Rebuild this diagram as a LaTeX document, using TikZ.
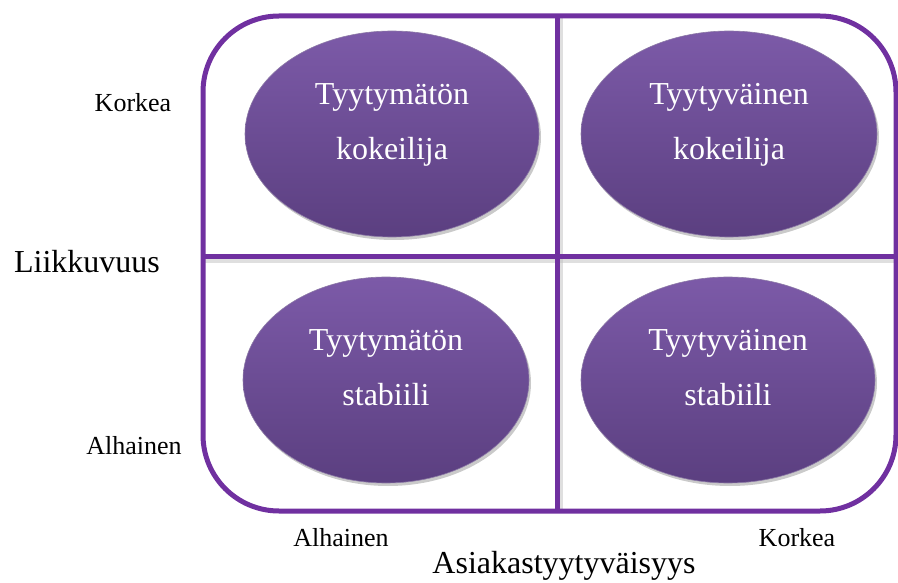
\documentclass[tikz,border=0pt]{standalone}
\usepackage{fontspec}
\setmainfont{Liberation Serif}
\usetikzlibrary{shadows,calc}
\definecolor{framepurple}{HTML}{7030A0}
\definecolor{elltop}{HTML}{7C5AA8}
\definecolor{ellbot}{HTML}{5B3F80}
\tikzset{
  frameline/.style={draw=framepurple, line width=5pt},
  lineshadow/.style={draw=black!25, line width=5pt},
  bubble/.style={ellipse, minimum width=#1, minimum height=206pt, inner sep=0pt,
    top color=elltop, bottom color=ellbot, draw=ellbot!70!white, line width=0.6pt,
    drop shadow={shadow xshift=2pt, shadow yshift=-3pt, opacity=0.35, fill=black!60}},
  bubbletext/.style={text=white, font=\fontsize{32}{55}\selectfont, align=center},
  axislbl/.style={font=\fontsize{26}{30}\selectfont, text=black},
  axistitle/.style={font=\fontsize{32}{36}\selectfont, text=black},
}
\usetikzlibrary{shapes.geometric}
\begin{document}
\begin{tikzpicture}[x=1pt,y=-1pt]
\useasboundingbox (0,0) rectangle (898,583);
% divider shadows
\draw[lineshadow, opacity=0.5] (203,261) -- (896,261);
\draw[lineshadow, opacity=0.5] (560,16) -- (560,511);
% frame and dividers
\draw[frameline, rounded corners=76pt] (203,16) rectangle (896,511);
\coordinate (hl) at (203,257);
\coordinate (hr) at (896,257);
\coordinate (vt) at (557,16);
\coordinate (vb) at (557,511);
\draw[frameline] (hl) -- (hr);
\draw[frameline] (vt) -- (vb);
% bubbles
\node[bubble=294pt] (tl) at (392,134) {};
\node[bubble=296pt] (tr) at (729,134) {};
\node[bubble=286pt] (bl) at (386,380) {};
\node[bubble=294pt] (br) at (728,380) {};
\node[bubbletext] (tlt) at ($(tl)+(0,-9)$) {Tyytymätön\\kokeilija};
\node[bubbletext] (trt) at ($(tr)+(0,-9)$) {Tyytyväinen\\kokeilija};
\node[bubbletext] (blt) at ($(bl)+(0,-12)$) {Tyytymätön\\stabiili};
\node[bubbletext] (brt) at ($(br)+(0,-12)$) {Tyytyväinen\\stabiili};
% axis labels
\node[axislbl] (yhi) at (133,103) {Korkea};
\node[axislbl] (ylo) at (134,446) {Alhainen};
\node[axislbl] (xlo) at (341,538) {Alhainen};
\node[axislbl] (xhi) at (797,538) {Korkea};
\node[axistitle] (ytitle) at (87,262) {Liikkuvuus};
\node[axistitle] (xtitle) at (564,566) {Asiakastyytyväisyys};
\end{tikzpicture}
\end{document}
